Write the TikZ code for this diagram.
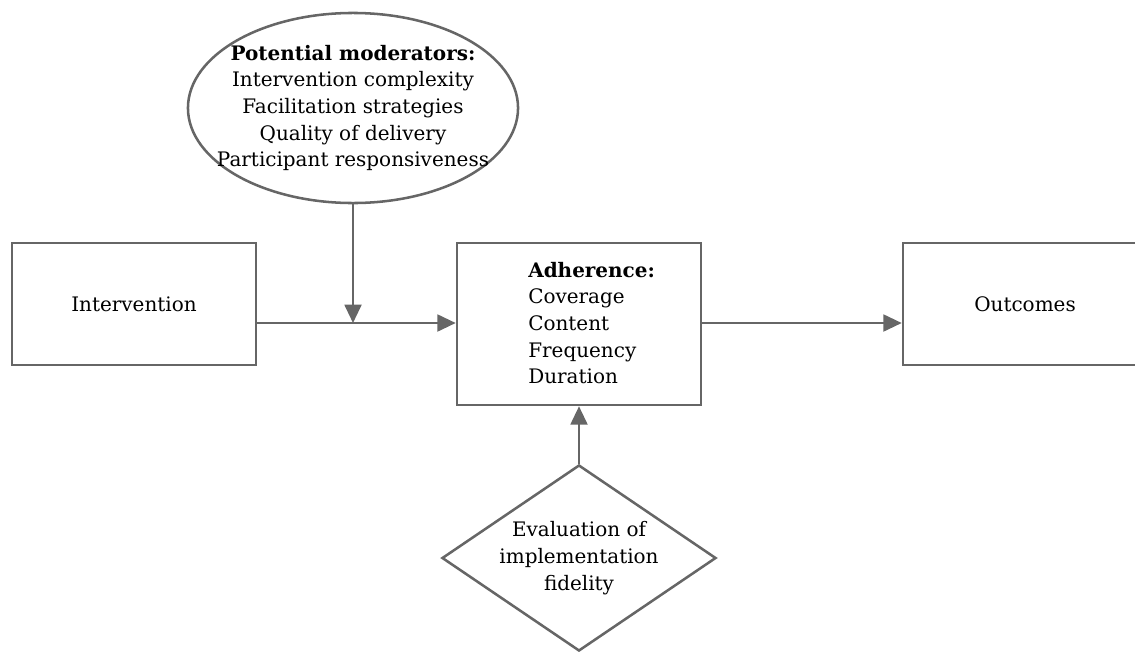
\documentclass[tikz,border=0pt]{standalone}
\usepackage{fontspec}
\setmainfont{DejaVu Serif}
\usepackage{tikz}
\usetikzlibrary{shapes.geometric,arrows.meta}

\begin{document}
\begin{tikzpicture}[x=0.025cm,y=-0.025cm,
    box/.style={draw=linegray, line width=1.8pt, minimum width=6.1cm, minimum height=3.05cm, inner sep=0pt},
    flow/.style={-{Triangle[length=13pt,width=12pt]}, draw=linegray, line width=1.6pt},
    every node/.style={font=\fontsize{14.2}{19}\selectfont}]
  \definecolor{linegray}{HTML}{666666}
  \useasboundingbox (0,0) rectangle (1135,651);

  \node[box] (Intervention) at (134,304) {Intervention};
  \node[box, minimum height=4.05cm] (Adherence) at (579,324) {};
  \node[align=left, anchor=west, inner sep=0pt] (AdhText) at (528,323) {\textbf{Adherence:}\\Coverage\\Content\\Frequency\\Duration};
  \node[box] (Outcomes) at (1025,304) {Outcomes};
  \node[draw=linegray, line width=1.8pt, ellipse, minimum width=8.25cm, minimum height=4.75cm, inner xsep=-0.5cm, inner ysep=0pt, align=center] (Moderators) at (353,108) {\textbf{Potential moderators:}\\Intervention complexity\\Facilitation strategies\\Quality of delivery\\Participant responsiveness};
  \node[draw=linegray, line width=1.8pt, diamond, shape aspect=1.47, minimum width=6.85cm, minimum height=4.65cm, inner sep=0pt, align=center] (Evaluation) at (579,558) {Evaluation of\\implementation\\fidelity};
  \coordinate (Join) at (353,323);

  \draw[flow] (Intervention.east |- Join) -- (Join -| Adherence.west);
  \draw[flow] (Moderators.south) -- (Join);
  \draw[flow] (Adherence.east |- Join) -- (Join -| Outcomes.west);
  \draw[flow] (Evaluation.north) -- (Adherence.south);
\end{tikzpicture}
\end{document}
